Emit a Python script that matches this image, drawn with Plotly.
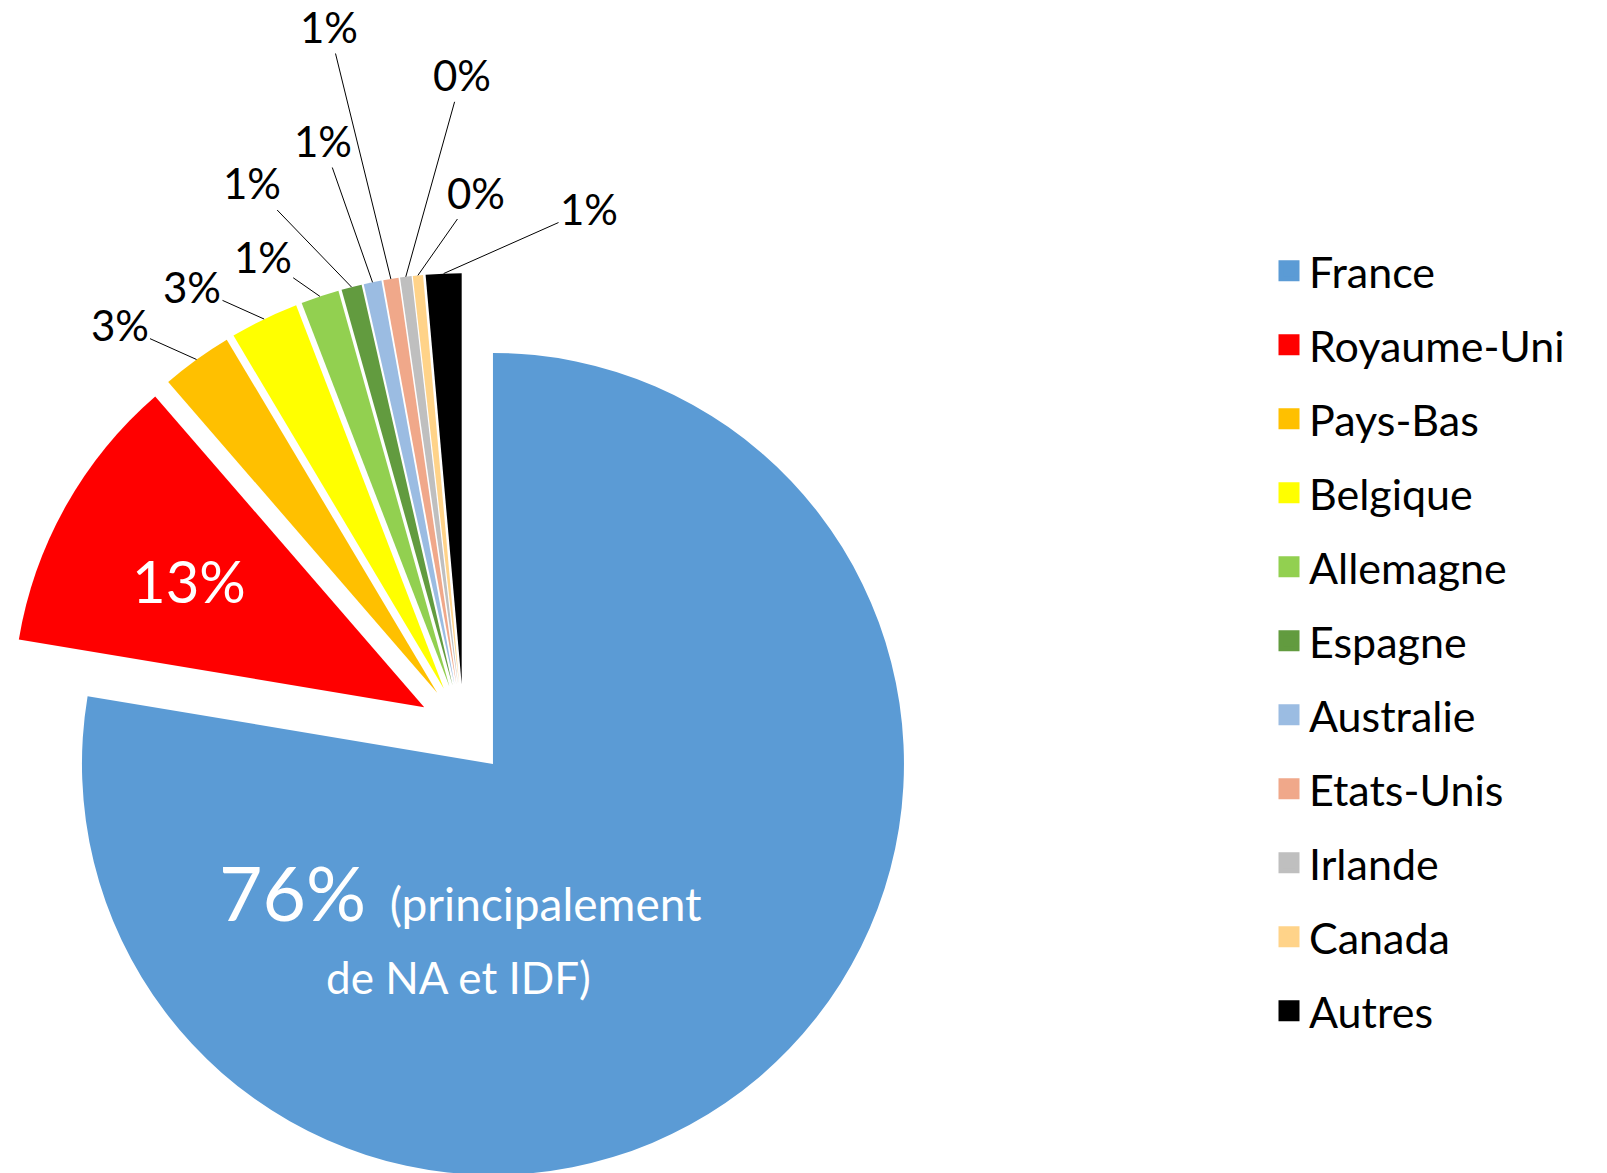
import math
import plotly.graph_objects as go

# ---------------- data ----------------
countries = ["France", "Royaume-Uni", "Pays-Bas", "Belgique", "Allemagne", "Espagne",
             "Australie", "Etats-Unis", "Irlande", "Canada", "Autres"]
shares = [77.6, 11.0, 2.8, 2.7, 1.5, 0.8, 0.7, 0.6, 0.45, 0.4, 1.4]
shown_pct = ["76%", "13%", "3%", "3%", "1%", "1%", "1%", "1%", "0%", "0%", "1%"]
france_note = "(principalement<br>de NA et IDF)"

# ---------------- style ----------------
colors = ["#5B9BD5", "#FF0000", "#FFC000", "#FFFF00", "#92D050", "#629B3F",
          "#9BBCE2", "#F0A88A", "#BFBFBF", "#FFD389", "#000000"]
FONT = "Lato"
W, H = 1607, 1200              # figure size (bottom of the pie runs just past the window)
OFF = 0.0                      # body margin removed by post_script below
PULL = 0.1102
R_TARGET = 411.0
CXs, CYs = 463.7, 729.4        # desired pie centre on screen (px)
# outside label centres on screen (px) for the small slices
outside_pos = {2: (119.5, 325.0), 3: (192.0, 286.7), 4: (262.7, 256.5), 5: (251.6, 183.5),
               6: (323.0, 141.0), 7: (329.0, 27.0), 8: (462.0, 75.3), 9: (476.0, 192.5),
               10: (589.0, 209.0)}


def px(xs):
    return (xs - OFF) / W


def py(ys):
    return 1 - (ys - OFF) / H


fig = go.Figure()

CX, CY = CXs - OFF, CYs - OFF
HALF = min(CX, R_TARGET * (1 + PULL))
dom_x = [max(0.0, (CX - HALF) / W), (CX + HALF) / W]
dom_y = [1 - (CY + HALF) / H, 1 - (CY - HALF) / H]

fig.add_trace(go.Pie(
    labels=countries, values=shares, sort=False, direction="clockwise", rotation=0,
    marker=dict(colors=colors, line=dict(width=0)),
    pull=[PULL] * len(shares), textinfo="none", hoverinfo="label+percent",
    showlegend=False, domain=dict(x=dom_x, y=dom_y),
))

# legend entries via marker-only traces (one legend group each)
for name, col in zip(countries, colors):
    fig.add_trace(go.Scatter(
        x=[None], y=[None], mode="markers", name=name, legendgroup=name,
        marker=dict(symbol="square", size=16, color=col, line=dict(color=col, width=5)),
    ))

# geometry of slices (same formula plotly uses)
r = HALF / (1 + PULL)
dpull = PULL * r
total = sum(shares)
annotations = []
cum = 0.0
for i, v in enumerate(shares):
    mid = 2 * math.pi * (cum + v / 2) / total
    cum += v
    if i in outside_pos:
        hx = CXs + (dpull + r) * math.sin(mid)
        hy = CYs - (dpull + r) * math.cos(mid)
        tx, ty = outside_pos[i]
        annotations.append(dict(
            x=px(hx), y=py(hy), xref="paper", yref="paper",
            ax=tx - hx, ay=ty - hy, axref="pixel", ayref="pixel",
            text=shown_pct[i], showarrow=True, arrowhead=0, arrowwidth=1,
            arrowcolor="#000000", standoff=0, startstandoff=0,
            xanchor="center", yanchor="middle",
            font=dict(family=FONT, size=42, color="#000000"),
        ))

# inside labels
annotations.append(dict(
    x=px(189.0), y=py(580.0), xref="paper", yref="paper", showarrow=False,
    text=shown_pct[1], font=dict(family=FONT, size=58, color="#FFFFFF"),
    xanchor="center", yanchor="middle"))
note1, note2 = france_note.split("<br>")
annotations.append(dict(
    x=px(460.0), y=py(892.0), xref="paper", yref="paper", showarrow=False,
    text="<span style='font-size:75px'>" + shown_pct[0] + "</span>  " + note1,
    font=dict(family=FONT, size=46, color="#FFFFFF"),
    xanchor="center", yanchor="middle"))
annotations.append(dict(
    x=px(458.0), y=py(977.0), xref="paper", yref="paper", showarrow=False,
    text=note2, font=dict(family=FONT, size=44, color="#FFFFFF"),
    xanchor="center", yanchor="middle"))

LEG_FS = 43
fig.update_layout(
    width=W, height=H, margin=dict(l=0, r=0, t=0, b=0),
    paper_bgcolor="#FFFFFF", plot_bgcolor="#FFFFFF",
    xaxis=dict(visible=False), yaxis=dict(visible=False),
    annotations=annotations,
    legend=dict(x=px(1269.0), xanchor="left", y=py(640.8), yanchor="middle",
                font=dict(family=FONT, size=LEG_FS, color="#000000"),
                tracegroupgap=74 - (1.3 * LEG_FS + 3), traceorder="grouped",
                bgcolor="rgba(0,0,0,0)"),
    font=dict(family=FONT),
)

fig.write_html("out.html", config={"displayModeBar": False},
               post_script="document.body.style.margin='0px';")
